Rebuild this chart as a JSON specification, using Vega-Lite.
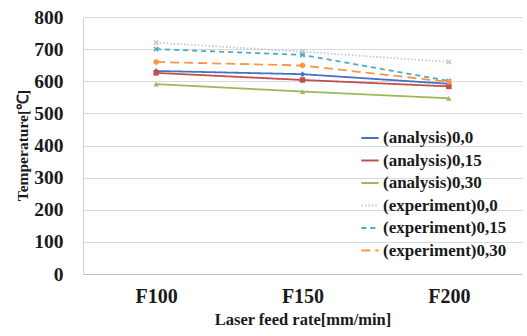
{
  "$schema": "https://vega.github.io/schema/vega-lite/v6.json",
  "width": 439,
  "height": 257,
  "autosize": {"type": "none"},
  "padding": {"left": 83, "top": 17, "right": 5, "bottom": 62},
  "background": "white",
  "config": {
    "view": {"stroke": null},
    "font": "Liberation Serif"
  },
  "data": {
    "values": [
      {"series": "(analysis)0,0", "rate": "F100", "temp": 632},
      {"series": "(analysis)0,0", "rate": "F150", "temp": 622},
      {"series": "(analysis)0,0", "rate": "F200", "temp": 592},
      {"series": "(analysis)0,15", "rate": "F100", "temp": 626},
      {"series": "(analysis)0,15", "rate": "F150", "temp": 604},
      {"series": "(analysis)0,15", "rate": "F200", "temp": 584},
      {"series": "(analysis)0,30", "rate": "F100", "temp": 591},
      {"series": "(analysis)0,30", "rate": "F150", "temp": 568},
      {"series": "(analysis)0,30", "rate": "F200", "temp": 547},
      {"series": "(experiment)0,0", "rate": "F100", "temp": 720},
      {"series": "(experiment)0,0", "rate": "F150", "temp": 692},
      {"series": "(experiment)0,0", "rate": "F200", "temp": 660},
      {"series": "(experiment)0,15", "rate": "F100", "temp": 700},
      {"series": "(experiment)0,15", "rate": "F150", "temp": 682},
      {"series": "(experiment)0,15", "rate": "F200", "temp": 601},
      {"series": "(experiment)0,30", "rate": "F100", "temp": 660},
      {"series": "(experiment)0,30", "rate": "F150", "temp": 649},
      {"series": "(experiment)0,30", "rate": "F200", "temp": 598}
    ]
  },
  "encoding": {
    "x": {
      "field": "rate",
      "type": "nominal",
      "sort": ["F100", "F150", "F200"],
      "scale": {"paddingInner": 0, "paddingOuter": 0},
      "axis": {
        "title": "Laser feed rate[mm/min]",
        "labelAngle": 0,
        "labelFont": "Liberation Serif",
        "labelFontWeight": "bold",
        "labelFontSize": 20,
        "labelColor": "#1a1a1a",
        "labelPadding": 12,
        "ticks": false,
        "domainColor": "#bfbfbf",
        "titleFont": "Liberation Serif",
        "titleFontWeight": "bold",
        "titleFontSize": 16.5,
        "titleColor": "#1a1a1a",
        "titlePadding": 5
      }
    },
    "y": {
      "field": "temp",
      "type": "quantitative",
      "scale": {"domain": [0, 800]},
      "axis": {
        "title": "Temperature[℃]",
        "values": [0, 100, 200, 300, 400, 500, 600, 700, 800],
        "labelFont": "Liberation Serif",
        "labelFontWeight": "bold",
        "labelFontSize": 19.5,
        "labelColor": "#1a1a1a",
        "labelPadding": 20,
        "ticks": false,
        "domainColor": "#cfcfcf",
        "gridColor": "#d9d9d9",
        "titleFont": "Liberation Serif",
        "titleFontWeight": "bold",
        "titleFontSize": 15.5,
        "titleColor": "#1a1a1a",
        "titleX": -61,
        "titleY": 128,
        "titleAlign": "center",
        "titleBaseline": "middle"
      }
    }
  },
  "layer": [
    {
      "mark": {"type": "line", "strokeWidth": 1.8},
      "encoding": {
        "color": {
          "field": "series",
          "type": "nominal",
          "sort": ["(analysis)0,0", "(analysis)0,15", "(analysis)0,30", "(experiment)0,0", "(experiment)0,15", "(experiment)0,30"],
          "scale": {
            "domain": ["(analysis)0,0", "(analysis)0,15", "(analysis)0,30", "(experiment)0,0", "(experiment)0,15", "(experiment)0,30"],
            "range": ["#4472c4", "#c0504d", "#9bbb59", "#c8c4d8", "#4bacc6", "#f79646"]
          },
          "legend": {
            "title": null,
            "orient": "none",
            "legendX": 277,
            "legendY": 111,
            "symbolType": "stroke",
            "symbolSize": 300,
            "symbolStrokeWidth": 2,
            "labelFont": "Liberation Serif",
            "labelFontWeight": "bold",
            "labelFontSize": 17,
            "labelColor": "#1a1a1a",
            "rowPadding": 4.5,
            "labelOffset": 3
          }
        },
        "strokeDash": {
          "field": "series",
          "type": "nominal",
          "scale": {
            "domain": ["(analysis)0,0", "(analysis)0,15", "(analysis)0,30", "(experiment)0,0", "(experiment)0,15", "(experiment)0,30"],
            "range": [[1, 0], [1, 0], [1, 0], [1.5, 2], [5, 4], [9, 5]]
          }
        }
      }
    },
    {
      "mark": {"type": "point", "filled": true, "opacity": 1, "size": 30},
      "encoding": {
        "color": {
          "field": "series",
          "type": "nominal",
          "scale": {
            "domain": ["(analysis)0,0", "(analysis)0,15", "(analysis)0,30", "(experiment)0,0", "(experiment)0,15", "(experiment)0,30"],
            "range": ["#4472c4", "#c0504d", "#9bbb59", "#c8c4d8", "#4bacc6", "#f79646"]
          },
          "legend": null
        },
        "shape": {
          "field": "series",
          "type": "nominal",
          "scale": {
            "domain": ["(analysis)0,0", "(analysis)0,15", "(analysis)0,30", "(experiment)0,0", "(experiment)0,15", "(experiment)0,30"],
            "range": ["diamond", "square", "triangle-up", "M-1,-0.6L-0.6,-1L0,-0.4L0.6,-1L1,-0.6L0.4,0L1,0.6L0.6,1L0,0.4L-0.6,1L-1,0.6L-0.4,0Z", "M-1,-0.6L-0.6,-1L0,-0.4L0.6,-1L1,-0.6L0.4,0L1,0.6L0.6,1L0,0.4L-0.6,1L-1,0.6L-0.4,0Z", "circle"]
          },
          "legend": null
        }
      }
    }
  ],
  "resolve": {"legend": {"color": "independent", "shape": "independent", "strokeDash": "independent"}}
}
